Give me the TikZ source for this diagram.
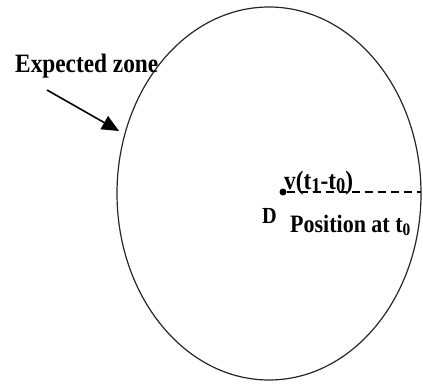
\documentclass[tikz,border=0pt]{standalone}
\usepackage{fontspec}
\setmainfont{Liberation Serif}
\newfontfamily\lblfont[FakeStretch=0.88]{Liberation Serif}
\usetikzlibrary{arrows.meta,shapes.geometric}
\begin{document}
\begin{tikzpicture}[x=1pt,y=-1pt,
  lbl/.style={anchor=base west,inner sep=0pt,font=\lblfont\bfseries\fontsize{26.5}{28}\selectfont},
  zoneline/.style={draw=black!85,line width=1.2pt}]
\useasboundingbox (0,0) rectangle (423,383);
\node[zoneline,ellipse,minimum width=304pt,minimum height=373pt,inner sep=0pt] (zone) at (269,193.5) {};
\node[lbl] (exp) at (15,72) {Expected zone};
\coordinate (as) at (47,90);
\coordinate (ae) at (119,131);
\draw[line width=1.6pt,-{Triangle[length=17pt,width=15pt]}] (as) -- (ae);
\node[circle,fill=black,inner sep=0pt,minimum size=7pt] (dot) at (283,192) {};
\coordinate (de) at (421,192);
\draw[line width=1.1pt,dash pattern=on 8pt off 5pt] (dot) -- (de);
\node[lbl] (v) at (284,189) {v(t\raisebox{-3pt}{\fontsize{21}{22}\selectfont 1}-t\raisebox{-3pt}{\fontsize{21}{22}\selectfont 0})};
\node[lbl,font=\lblfont\bfseries\fontsize{23}{24}\selectfont] (d) at (262,223) {D};
\node[lbl,font=\lblfont\bfseries\fontsize{25}{26}\selectfont] (pos) at (290,232) {Position at t\textsubscript{0}};
\end{tikzpicture}
\end{document}
